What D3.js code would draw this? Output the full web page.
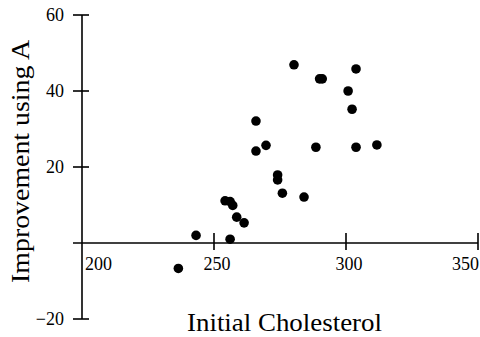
<!DOCTYPE html>
<html><head><meta charset="utf-8">
<script src="https://cdn.jsdelivr.net/npm/d3@7/dist/d3.min.js"></script>
<style>body{margin:0;background:#fff}svg{display:block}text{font-family:"Liberation Serif","Times New Roman",serif;fill:#000}</style>
</head><body>
<svg id="c" width="480" height="337"></svg>
<script>
const cholesterol = [280.3, 290, 291, 303.8, 300.8, 302.3, 288.6, 303.8, 311.7, 265.9, 269.7, 265.9, 274.1, 274.1, 275.9, 284.1, 254.2, 256.1, 257.1, 258.6, 261.4, 243.2, 256.1, 236.5];
const improvement = [46.9, 43.2, 43.2, 45.8, 40, 35.2, 25.2, 25.2, 25.8, 32.1, 25.7, 24.2, 17.9, 16.6, 13.1, 12.1, 11.1, 10.9, 9.9, 6.8, 5.3, 2.0, 1.0, -6.7];
const xTicks = [200, 250, 300, 350];
const yTicks = [-20, 20, 40, 60];
const xTitle = "Initial Cholesterol";
const yTitle = "Improvement using A";

const svg = d3.select("#c");
const x = d3.scaleLinear().domain([200, 350]).range([82, 478]);
const y = d3.scaleLinear().domain([-20, 60]).range([319, 15]);

// axes lines
svg.append("line").attr("x1", 73).attr("x2", x(350)).attr("y1", y(0)).attr("y2", y(0)).attr("stroke", "#000").attr("stroke-width", 1.6);
svg.append("line").attr("x1", x(200)).attr("x2", x(200)).attr("y1", y(60)).attr("y2", y(-20)).attr("stroke", "#000").attr("stroke-width", 1.6);

// x ticks
xTicks.filter(d => d !== 200).forEach(d => {
  svg.append("line").attr("x1", x(d)).attr("x2", x(d)).attr("y1", y(0) - 10).attr("y2", y(0) + 7).attr("stroke", "#000").attr("stroke-width", 1.6);
});
xTicks.forEach(d => {
  const t = svg.append("text").attr("y", 270).attr("font-size", 18).text(d);
  if (d === 200) t.attr("x", x(d) + 3).attr("text-anchor", "start");
  else if (d === 350) t.attr("x", 479).attr("text-anchor", "end");
  else t.attr("x", x(d) + 3).attr("text-anchor", "middle");
});

// y ticks
yTicks.forEach(d => {
  svg.append("line").attr("x1", x(200) - 9).attr("x2", x(200) + 7).attr("y1", y(d)).attr("y2", y(d)).attr("stroke", "#000").attr("stroke-width", 1.6);
  svg.append("text").attr("x", 64).attr("y", y(d) + 6).attr("text-anchor", "end").attr("font-size", 18).text(d < 0 ? "\u2212" + Math.abs(d) : d);
});

// points
svg.selectAll("circle").data(cholesterol).join("circle")
  .attr("cx", (d, i) => x(d)).attr("cy", (d, i) => y(improvement[i])).attr("r", 4.8).attr("fill", "#000");

// titles
svg.append("text").attr("x", 187).attr("y", 331).attr("font-size", 25).attr("textLength", 195).attr("lengthAdjust", "spacingAndGlyphs").text(xTitle);
svg.append("text").attr("transform", "translate(29,283) rotate(-90)").attr("font-size", 25).attr("textLength", 243).attr("lengthAdjust", "spacingAndGlyphs").text(yTitle);
</script>
</body></html>
